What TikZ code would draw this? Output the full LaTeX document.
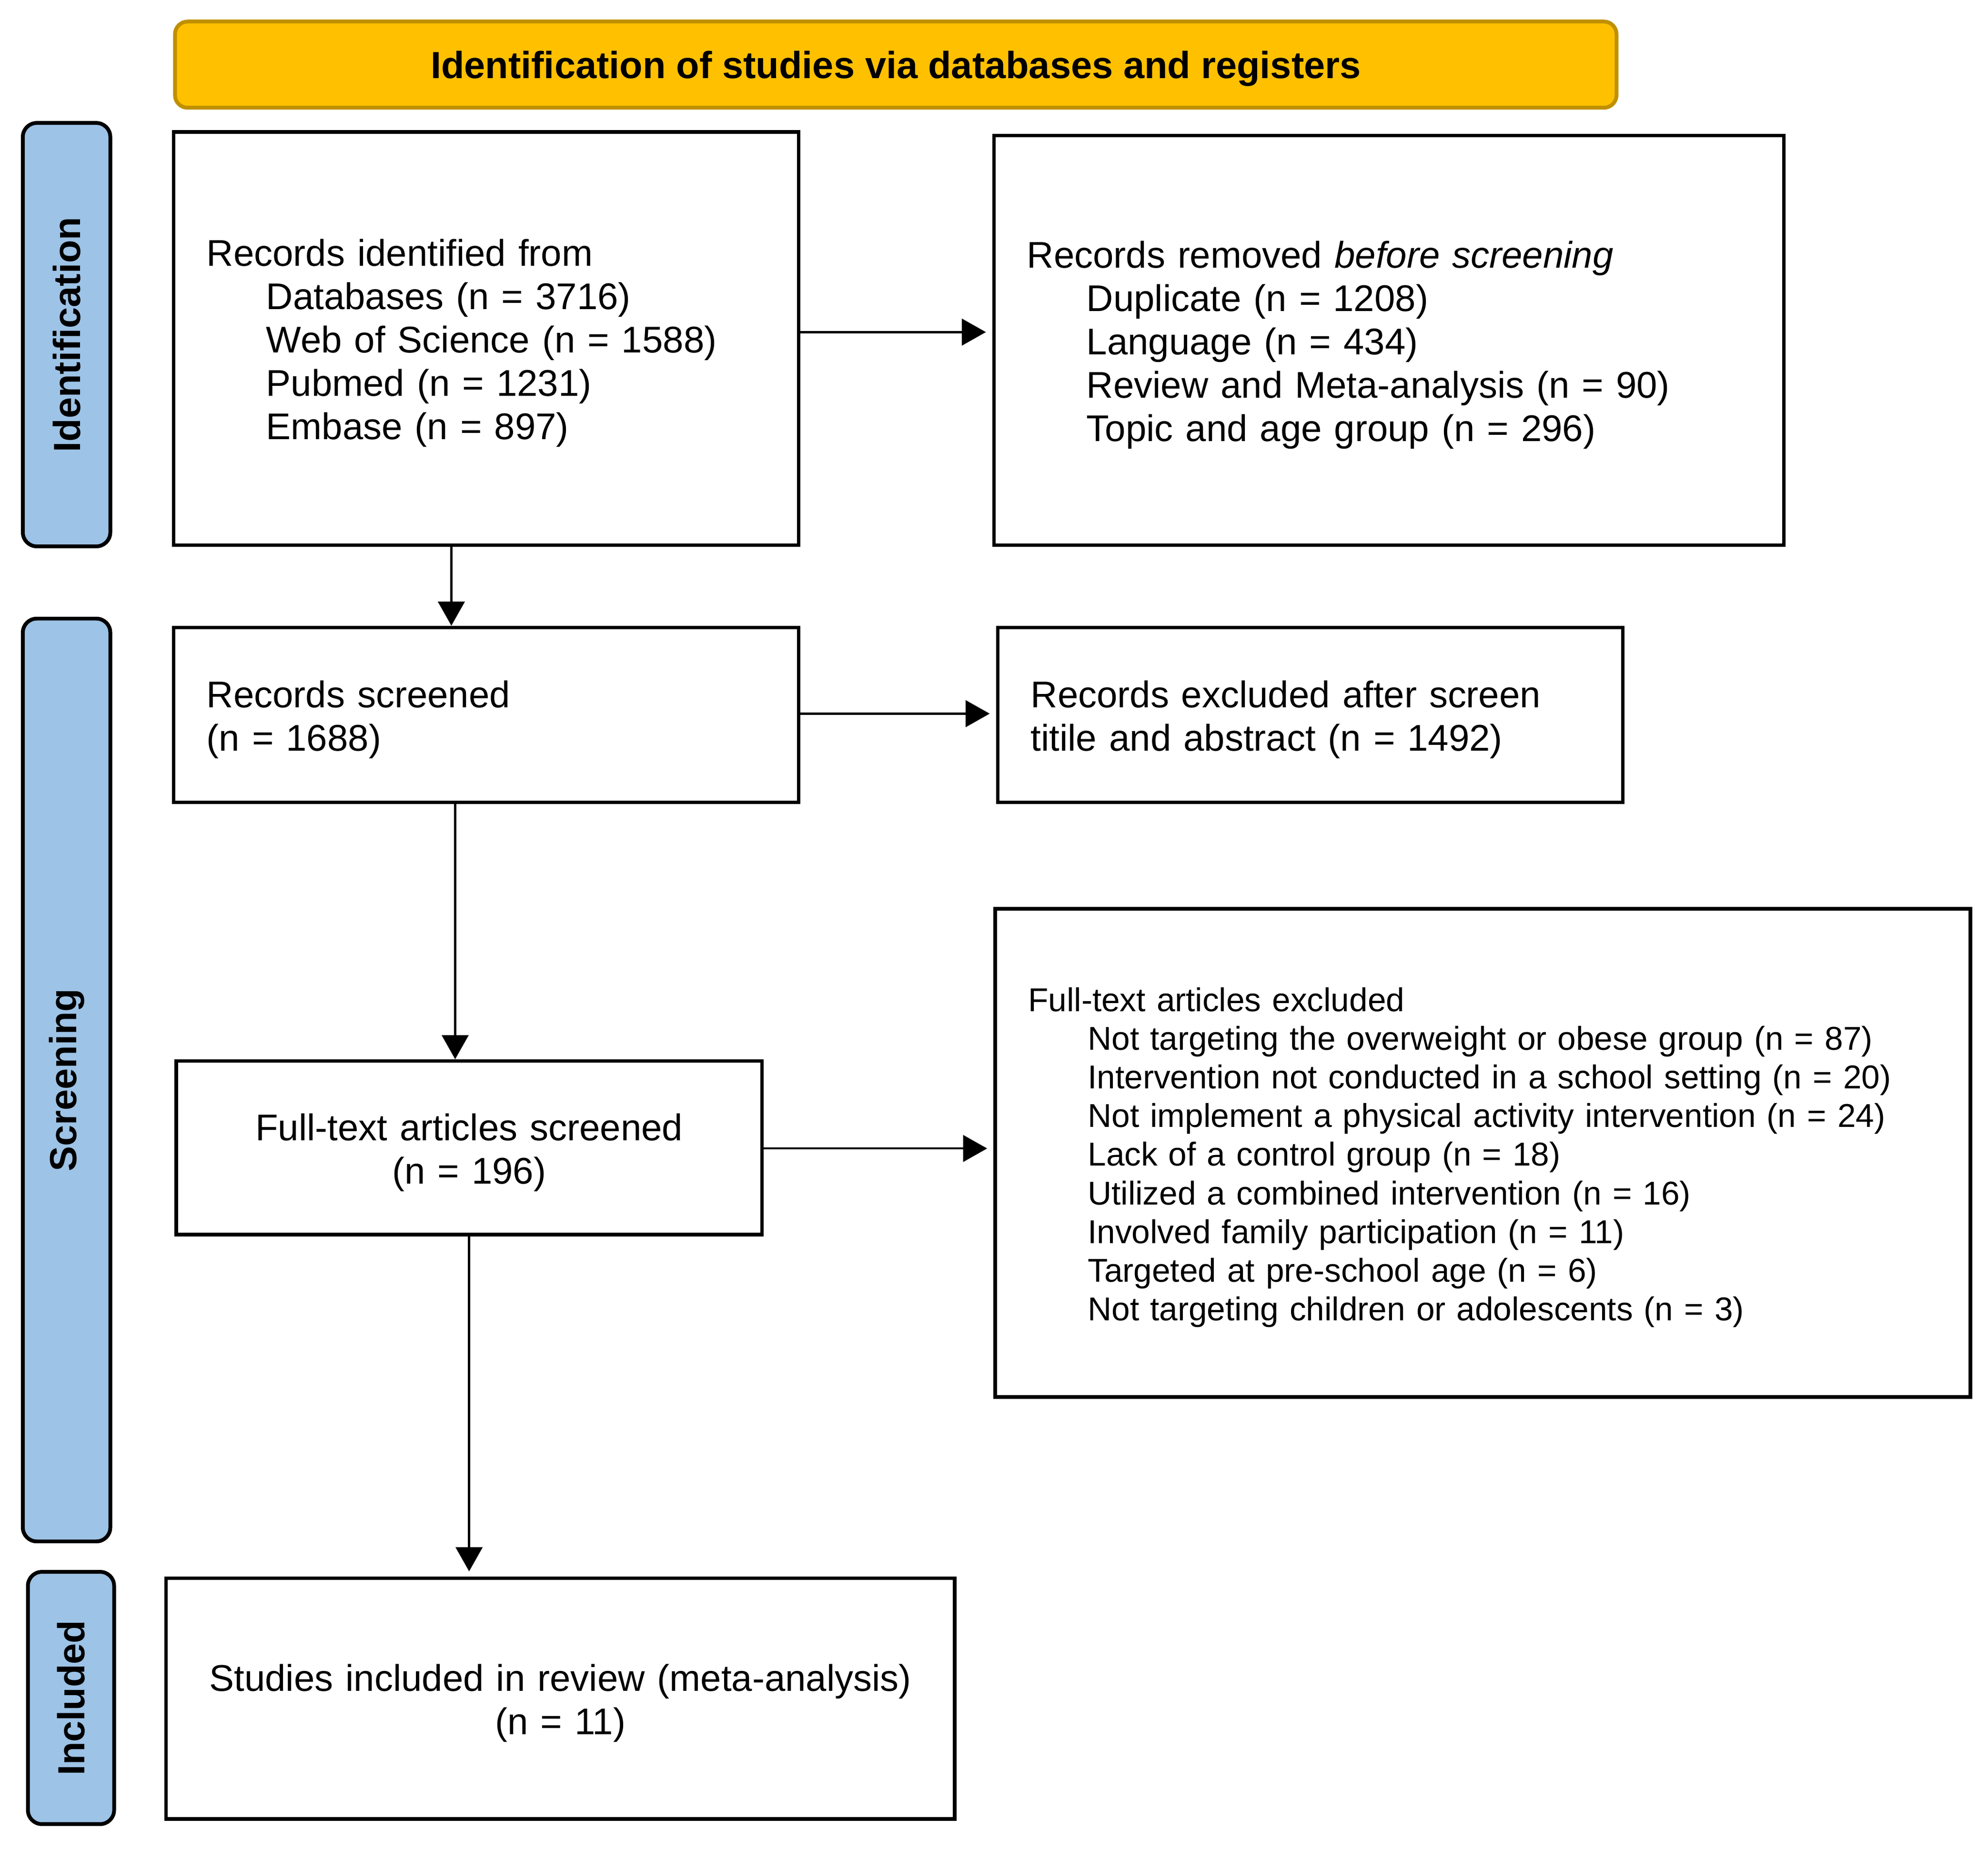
\documentclass[tikz,border=0pt]{standalone}
\usepackage{fontspec}
\setmainfont{Liberation Sans}
\usetikzlibrary{arrows.meta}
\definecolor{bannerfill}{HTML}{FFC000}
\definecolor{bannerline}{HTML}{BF9000}
\definecolor{tabfill}{HTML}{9DC3E6}
\newcommand{\bigtxt}{\fontsize{29.3}{34.2}\selectfont}
\newcommand{\smalltxt}{\fontsize{26.05}{30.5}\selectfont}
\newcommand{\titletxt}{\fontsize{29.8}{34.2}\selectfont}
\newcommand{\ind}{\hspace*{47pt}}
\newcommand{\fl}{\rule{0pt}{28.5pt}}
\newcommand{\fls}{\rule{0pt}{26pt}}
\begin{document}
\begin{tikzpicture}[x=1pt,y=-1pt,
  box/.style={draw, line width=2.8pt, rectangle, inner xsep=26pt, inner ysep=0pt, font=\bigtxt},
  lbox/.style={box, align=left},
  cbox/.style={box, align=center},
  tab/.style={draw, line width=3pt, fill=tabfill, rounded corners=11pt, rotate=90, inner sep=0pt, font=\titletxt\bfseries, minimum height=69pt},
  banner/.style={draw=bannerline, line width=3pt, fill=bannerfill, rounded corners=10pt, inner sep=0pt, font=\titletxt\bfseries},
  arr/.style={line width=1.7pt, -{Triangle[length=19pt,width=21pt]}, shorten >=5pt}
]
\useasboundingbox (0,0) rectangle (1568,1458.3);
\path[fill=white] (0,0) rectangle (1568,1458.3);

% banner
\node[banner, minimum width=1137pt, minimum height=68pt] (ban) at (706.5,51) {\rule[-1pt]{0pt}{29pt}Identification of studies via databases and registers};

% side tabs
\node[tab, minimum width=334pt] (t1) at (52.5,264) {Identification};
\node[tab, minimum width=728pt] (t2) at (52.5,852) {Screening};
\node[tab, minimum width=199pt, minimum height=68pt] (t3) at (56,1339.5) {Included};

% boxes
\node[lbox, text width=441pt, minimum height=326pt] (b1) at (383.5,267) {\fl Records identified from\\
\ind Databases (n = 3716)\\
\ind Web of Science (n = 1588)\\
\ind Pubmed (n = 1231)\\
\ind Embase (n = 897)};

\node[lbox, text width=571pt, minimum height=323pt] (b2) at (1095.5,268.5) {\fl Records removed \textit{before screening}\\
\ind Duplicate (n = 1208)\\
\ind Language (n = 434)\\
\ind Review and Meta-analysis (n = 90)\\
\ind Topic and age group (n = 296)};

\node[lbox, text width=441pt, minimum height=138pt] (b3) at (383.5,564) {\fl Records screened\\(n = 1688)};

\node[lbox, text width=441pt, minimum height=138pt] (b4) at (1033.5,564) {\fl Records excluded after screen\\titile and abstract (n = 1492)};

\node[cbox, text width=410pt, minimum height=137pt] (b5) at (370,905.5) {\fl Full-text articles screened\\(n = 196)};

\node[lbox, text width=717pt, minimum height=385pt, font=\smalltxt] (b6) at (1169.5,909.5) {\fls Full-text articles excluded\\
\ind Not targeting the overweight or obese group (n = 87)\\
\ind Intervention not conducted in a school setting (n = 20)\\
\ind Not implement a physical activity intervention (n = 24)\\
\ind Lack of a control group (n = 18)\\
\ind Utilized a combined intervention (n = 16)\\
\ind Involved family participation (n = 11)\\
\ind Targeted at pre-school age (n = 6)\\
\ind Not targeting children or adolescents (n = 3)};

\node[cbox, text width=570pt, minimum height=190pt] (b7) at (442,1340) {\fl Studies included in review (meta-analysis)\\(n = 11)};

% connector guides
\coordinate (v1) at (356,0);
\coordinate (v2) at (359,0);
\coordinate (v3) at (370,0);
\coordinate (h1) at (0,262);
\coordinate (h2) at (0,563);
\coordinate (h3) at (0,906);

\draw[arr] (b1.east |- h1) -- (b2.west |- h1);
\draw[arr] (b3.east |- h2) -- (b4.west |- h2);
\draw[arr] (b5.east |- h3) -- (b6.west |- h3);
\draw[arr, shorten >=0pt] (b1.south -| v1) -- (b3.north -| v1);
\draw[arr, shorten >=0pt] (b3.south -| v2) -- (b5.north -| v2);
\draw[arr, shorten >=4pt] (b5.south -| v3) -- (b7.north -| v3);
\end{tikzpicture}
\end{document}
